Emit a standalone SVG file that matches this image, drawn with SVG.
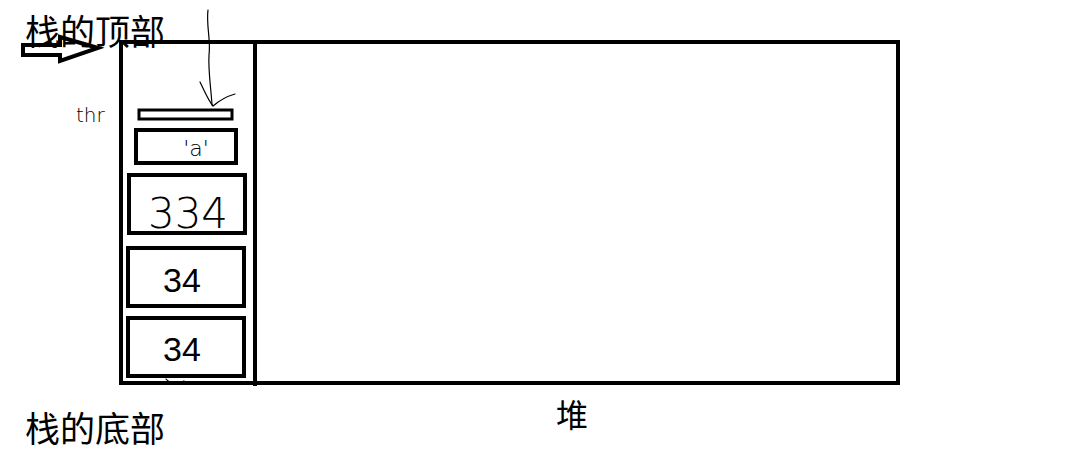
<svg xmlns="http://www.w3.org/2000/svg" width="1069" height="463" viewBox="0 0 1069 463">
<style>
.box{fill:none;stroke:#000;stroke-width:4}
.lbl{font-family:"Noto Sans CJK SC","Noto Sans",sans-serif;fill:#000}
.num{font-family:"Liberation Sans","Noto Sans",sans-serif;fill:#000}
.thin{font-family:"DejaVu Sans","Liberation Sans",sans-serif;font-weight:200;fill:#000}
.hand{fill:none;stroke:#000;stroke-width:1.2;stroke-linecap:round;stroke-linejoin:round}
</style>
<rect width="1069" height="463" fill="#fff"/>
<g id="memory">
<rect class="box" x="121" y="42" width="777" height="341"/>
<line x1="255" y1="42" x2="255" y2="386" stroke="#000" stroke-width="4"/>
</g>
<g id="slot-top">
<rect x="139" y="110" width="93" height="9" fill="none" stroke="#000" stroke-width="3"/>
</g>
<g id="slot-a">
<rect class="box" x="136" y="130" width="100" height="33"/>
<text class="thin" x="196" y="156" font-size="22" text-anchor="middle">'a'</text>
</g>
<g id="slot-334">
<rect class="box" x="129" y="175" width="116" height="58"/>
<text class="thin" x="188" y="228" font-size="42" text-anchor="middle">334</text>
</g>
<g id="slot-34a">
<rect class="box" x="128" y="248" width="116" height="58"/>
<text class="num" x="182" y="292" font-size="34" text-anchor="middle">34</text>
</g>
<g id="slot-34b">
<rect class="box" x="128" y="318" width="116" height="58"/>
<text class="num" x="182" y="361" font-size="34" text-anchor="middle">34</text>
</g>
<g id="labels">
<text class="lbl" x="25" y="45" font-size="35">栈的顶部</text>
<text class="lbl" x="25" y="442" font-size="35">栈的底部</text>
<text class="lbl" x="556" y="427" font-size="32">堆</text>
<text class="thin" x="76" y="122" font-size="20">thr</text>
</g>
<g id="connectors">
<path d="M23,45 H60 V37 L98,48 L60,61 V55 H23 Z" fill="none" stroke="#000" stroke-width="4" stroke-linejoin="miter"/>
<path class="hand" d="M208,10 C206,25 211,40 209,55 C208,70 211,88 212,105"/>
<path class="hand" d="M200,82 C205,92 208,100 213,106 C220,100 228,96 235,94"/>
<path class="hand" d="M166,379 C170,384 180,385 184,381"/>
</g>
</svg>
